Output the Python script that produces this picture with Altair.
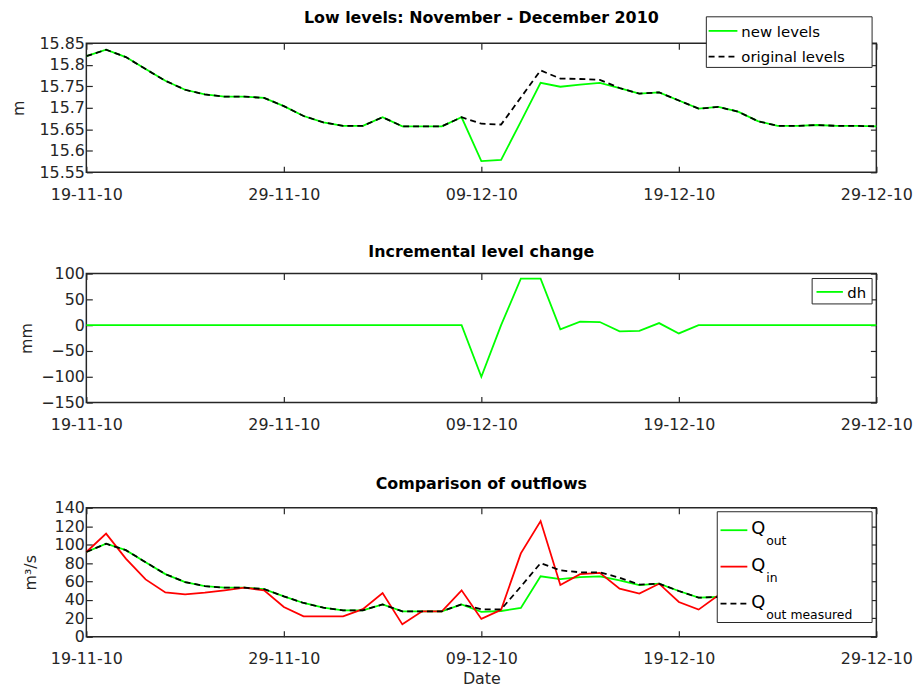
import altair as alt
import pandas as pd

# daily sample dates starting 19 Nov 2010
first_day = "2010-11-19"
dates = [d.strftime("%Y-%m-%d") for d in pd.date_range(first_day, periods=41, freq="D")]

# reservoir levels (m)
new_levels = [15.820, 15.835, 15.818, 15.790, 15.763, 15.742, 15.731, 15.726, 15.726, 15.723,
              15.704, 15.681, 15.666, 15.658, 15.658, 15.678, 15.657, 15.657, 15.657, 15.678,
              15.576, 15.579, 15.668, 15.758, 15.749, 15.754, 15.758, 15.746, 15.733, 15.736,
              15.717, 15.698, 15.702, 15.691, 15.669, 15.658, 15.658, 15.660, 15.658, 15.658,
              15.657]
original_levels = [15.820, 15.835, 15.818, 15.790, 15.763, 15.742, 15.731, 15.726, 15.726, 15.723,
                   15.704, 15.681, 15.666, 15.658, 15.658, 15.678, 15.657, 15.657, 15.657, 15.678,
                   15.663, 15.661, 15.724, 15.787, 15.768, 15.767, 15.765, 15.746, 15.733, 15.736,
                   15.717, 15.698, 15.702, 15.691, 15.669, 15.658, 15.658, 15.660, 15.658, 15.658,
                   15.657]

# incremental level change (mm)
dh_mm = [0, 0, 0, 0, 0, 0, 0, 0, 0, 0,
         0, 0, 0, 0, 0, 0, 0, 0, 0, 0,
         -100, 0, 90, 90, -8, 7, 6, -12, -11, 4,
         -16, 0, 0, 0, 0, 0, 0, 0, 0, 0,
         0]

# flows (m3/s)
q_out = [92, 101, 94, 81, 68, 59.4, 55, 53.3, 53.3, 51.8,
         43.9, 36.7, 31.6, 28.7, 28.7, 35.2, 27.6, 27.6, 27.6, 35.2,
         27, 28, 31.4, 65.6, 62.5, 64.8, 65.6, 61.2, 56, 57.6,
         49.7, 42.5, 43.2]
q_in = [92, 112, 84.8, 62.3, 48.2, 46, 47.9, 50.4, 53.3, 50.4,
        32.3, 22.2, 22.2, 22.2, 30, 47.5, 13.5, 27.6, 27.6, 50.4,
        19.4, 29.3, 90.5, 125.6, 56.2, 68, 69.4, 52.2, 46.8, 57.6,
        37.8, 29.5, 45]
q_out_measured = [92, 101, 94, 81, 68, 59.4, 55, 53.3, 53.3, 51.8,
                  43.9, 36.7, 31.6, 28.7, 28.7, 35.2, 27.6, 27.6, 27.6, 35.2,
                  29.8, 29.8, 54.5, 80, 72.1, 70, 70, 64.1, 56.6, 57.6,
                  49.7, 42.5, 43.2]

level_names = ["new levels", "original levels"]
dh_names = ["dh"]
flow_names = [("Q", "out"), ("Q", "in"), ("Q", "out measured")]

x_ticks = ["2010-11-19", "2010-11-29", "2010-12-09", "2010-12-19", "2010-12-29"]
level_ticks = [15.55, 15.6, 15.65, 15.7, 15.75, 15.8, 15.85]
dh_ticks = [-150, -100, -50, 0, 50, 100]
flow_ticks = [0, 20, 40, 60, 80, 100, 120, 140]

W, H = 796, 130
FONT = "DejaVu Sans"
INK = "#262626"
GREEN, RED, BLACK = "#00ff00", "#ff0000", "#000000"
DASH = [6, 4]
LW = 1.8
TICK = 6


def dt(s):
    y, m, d = (int(p) for p in s.split("-"))
    return alt.DateTime(year=y, month=m, date=d, utc=True)


def frame(values):
    return pd.DataFrame({"date": dates[:len(values)], "value": values})


def x_scale():
    return alt.Scale(type="utc", domain=[dt(x_ticks[0]), dt(x_ticks[-1])])


def bottom_axis(title):
    opts = dict(values=[dt(t) for t in x_ticks], format="%d-%m-%y", orient="bottom",
                offset=-TICK, tickSize=TICK, domain=False, grid=False, labelPadding=14,
                labelFlush=False, labelOverlap=False)
    if title:
        return alt.Axis(title=title, titlePadding=4, **opts)
    return alt.Axis(title=None, **opts)


def top_axis():
    return alt.Axis(values=[dt(t) for t in x_ticks], orient="top", offset=-TICK, tickSize=TICK,
                    domain=False, grid=False, labels=False, title=None)


def left_axis(ticks, title, title_x):
    return alt.Axis(values=ticks, orient="left", offset=-TICK, tickSize=TICK, domain=False,
                    grid=False, labelPadding=2, format="~r", labelOverlap=False,
                    labelFlush=False, title=title, titleX=title_x, titleBaseline="middle")


def right_axis(ticks):
    return alt.Axis(values=ticks, orient="right", offset=-TICK, tickSize=TICK, domain=False,
                    grid=False, labels=False, title=None)


one_row = alt.Data(values=[{"k": 0}])


def legend_box(x0, x1, y0, y1):
    return alt.Chart(one_row).mark_rect(fill="white", stroke=INK, strokeWidth=1).encode(
        x=alt.value(x0), x2=alt.value(x1), y=alt.value(y0), y2=alt.value(y1))


def legend_line(x0, x1, y, color, dash):
    kw = dict(color=color, strokeWidth=LW)
    if dash:
        kw["strokeDash"] = dash
    return alt.Chart(one_row).mark_rule(**kw).encode(
        x=alt.value(x0), x2=alt.value(x1), y=alt.value(y))


def legend_text(x, y, text, size):
    return alt.Chart(one_row).mark_text(align="left", baseline="middle", font=FONT,
                                        fontSize=size, color="black").encode(
        x=alt.value(x), y=alt.value(y), text=alt.value(text))


def panel(series, domain, ticks, ytitle, ytitle_x, legend, title, title_offset, xtitle=None):
    ys = alt.Scale(domain=domain, nice=False, zero=False)
    base_df = series[0][0]
    axes_lb = alt.Chart(base_df).mark_line(strokeOpacity=0).encode(
        x=alt.X("date:T", scale=x_scale(), axis=bottom_axis(xtitle)),
        y=alt.Y("value:Q", scale=ys, axis=left_axis(ticks, ytitle, ytitle_x)))
    axes_tr = alt.Chart(base_df).mark_line(strokeOpacity=0).encode(
        x=alt.X("date:T", scale=x_scale(), axis=top_axis()),
        y=alt.Y("value:Q", scale=ys, axis=right_axis(ticks)))
    lines = []
    for df, color, dash in series:
        kw = dict(color=color, strokeWidth=LW)
        if dash:
            kw["strokeDash"] = dash
        lines.append(alt.Chart(df).mark_line(**kw).encode(
            x=alt.X("date:T", scale=x_scale(), axis=None),
            y=alt.Y("value:Q", scale=ys, axis=None)))
    return alt.layer(axes_lb, axes_tr, *lines, *legend).resolve_axis(
        x="independent", y="independent").properties(
        width=W, height=H,
        title=alt.TitleParams(title, font=FONT, fontSize=16, fontWeight="bold", color="black",
                              anchor="middle", frame="group", offset=title_offset))


# panel 1: levels
lev_legend = [
    legend_box(624.7, 791.7, -26.7, 24.3),
    legend_line(627, 656, -12.5, GREEN, None),
    legend_text(660, -11, level_names[0], 15),
    legend_line(627, 656, 13.5, BLACK, DASH),
    legend_text(660, 13.5, level_names[1], 15),
]
p1 = panel([(frame(new_levels), GREEN, None), (frame(original_levels), BLACK, DASH)],
           [15.55, 15.85], level_ticks, "m", -74, lev_legend,
           "Low levels: November - December 2010", -10)

# panel 2: incremental change
dh_legend = [
    legend_box(731.3, 791.7, 5, 30.6),
    legend_line(735.7, 762.3, 18.5, GREEN, None),
    legend_text(766.7, 19.5, dh_names[0], 15),
]
p2 = panel([(frame(dh_mm), GREEN, None)], [-150, 100], dh_ticks, "mm", -66, dh_legend,
           "Incremental level change", 6)

# panel 3: flows
flow_legend = [legend_box(635.7, 791.7, 4, 115.6)]
for (main, sub), row_y, color, dash in zip(flow_names, [22.6, 59.3, 96.6],
                                           [GREEN, RED, BLACK], [None, None, DASH]):
    flow_legend.append(legend_line(639, 666, row_y, color, dash))
    flow_legend.append(legend_text(670, row_y - 1, main, 18))
    flow_legend.append(legend_text(685, row_y + 11, sub, 12.5))
p3 = panel([(frame(q_out), GREEN, None), (frame(q_in), RED, None),
            (frame(q_out_measured), BLACK, DASH)],
           [0, 140], flow_ticks, "m³/s", -62, flow_legend, "Comparison of outflows", 8,
           xtitle="Date")

chart = alt.vconcat(alt.vconcat(p1, p2, spacing=40), p3, spacing=42).properties(
    padding={"left": 10, "top": 7, "right": 8, "bottom": 3}
).configure_view(stroke=INK, strokeWidth=1.5).configure_axis(
    labelFont=FONT, labelFontSize=16, labelColor=INK, tickColor=INK, tickWidth=1.2,
    titleFont=FONT, titleFontSize=16, titleColor=INK, titleFontWeight="normal"
)

chart.save("out.html", embed_options={"renderer": "svg", "actions": False})
